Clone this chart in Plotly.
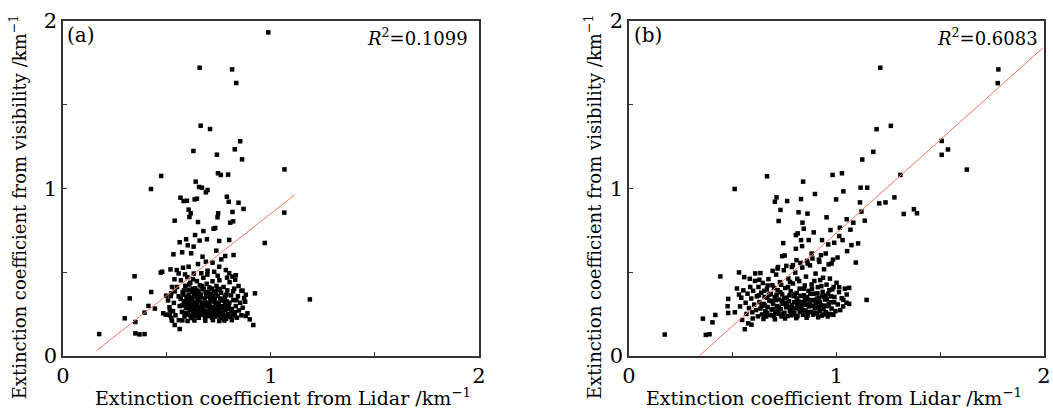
import plotly.graph_objects as go

# ---------------- data: panel (a) ----------------
a_sparse = [
    (0.987, 1.932), (0.657, 1.721), (0.813, 1.711), (0.833, 1.630), (0.662, 1.375),
    (0.707, 1.355), (0.852, 1.282), (0.826, 1.234), (0.627, 1.224), (0.740, 1.202),
    (0.861, 1.174), (1.065, 1.114), (0.472, 1.075), (0.745, 1.091), (0.759, 1.081),
    (0.794, 1.083), (0.423, 0.997), (0.638, 1.041), (0.654, 1.009), (0.668, 1.005),
    (0.687, 0.977), (0.695, 0.991), (0.565, 0.945), (0.580, 0.925), (0.596, 0.927),
    (0.633, 0.935), (0.644, 0.939), (0.788, 0.951), (0.797, 0.921), (0.844, 0.915),
    (0.868, 0.878), (1.064, 0.856), (0.815, 0.860), (0.604, 0.874), (0.614, 0.852),
    (0.608, 0.830), (0.649, 0.800), (0.537, 0.808), (0.746, 0.852), (0.743, 0.828),
    (0.804, 0.796), (0.818, 0.804), (0.732, 0.764), (0.724, 0.760), (0.675, 0.746),
    (0.635, 0.722), (0.592, 0.697), (0.561, 0.679), (0.970, 0.675), (0.600, 0.661),
    (0.628, 0.653), (0.657, 0.689), (0.692, 0.697), (0.751, 0.687), (0.799, 0.693),
    (0.737, 0.629), (0.531, 0.607), (0.573, 0.619), (0.616, 0.613), (0.671, 0.593),
    (0.820, 0.603), (0.780, 0.597), (0.761, 0.577), (0.719, 0.557), (0.687, 0.563),
    (0.649, 0.549), (0.604, 0.533), (0.577, 0.527), (0.547, 0.513), (0.477, 0.503),
    (0.470, 0.498), (0.517, 0.517), (0.344, 0.476), (0.751, 0.533), (0.783, 0.513),
    (0.815, 0.474), (0.799, 0.494), (0.831, 0.482), (0.727, 0.503), (0.695, 0.509),
    (0.665, 0.494), (0.321, 0.344), (0.424, 0.382), (0.923, 0.374), (1.187, 0.338),
    (0.411, 0.299), (0.392, 0.259), (0.442, 0.283), (0.297, 0.225), (0.348, 0.203),
    (0.174, 0.131), (0.348, 0.135), (0.368, 0.129), (0.392, 0.131), (0.482, 0.255),
    (0.494, 0.247), (0.514, 0.271), (0.524, 0.211), (0.537, 0.185), (0.561, 0.161),
    (0.496, 0.360), (0.520, 0.374), (0.915, 0.185), (0.898, 0.219), (0.879, 0.239),
    (0.887, 0.255), (0.876, 0.324), (0.879, 0.366), (0.863, 0.390), (0.751, 0.209),
]
a_dense = [
    (0.548, 0.412), (0.556, 0.356), (0.561, 0.298), (0.567, 0.452), (0.572, 0.263),
    (0.575, 0.381), (0.581, 0.327), (0.584, 0.236), (0.588, 0.419), (0.591, 0.288),
    (0.594, 0.352), (0.598, 0.471), (0.601, 0.248), (0.603, 0.396), (0.606, 0.314),
    (0.609, 0.272), (0.612, 0.437), (0.614, 0.341), (0.617, 0.226), (0.619, 0.383),
    (0.622, 0.295), (0.625, 0.458), (0.627, 0.259), (0.629, 0.368), (0.632, 0.322),
    (0.635, 0.404), (0.637, 0.239), (0.639, 0.283), (0.642, 0.351), (0.644, 0.447),
    (0.646, 0.306), (0.649, 0.262), (0.651, 0.389), (0.653, 0.228), (0.656, 0.334),
    (0.658, 0.422), (0.661, 0.276), (0.663, 0.367), (0.665, 0.245), (0.668, 0.311),
    (0.671, 0.398), (0.673, 0.289), (0.675, 0.467), (0.678, 0.254), (0.681, 0.343),
    (0.683, 0.227), (0.686, 0.381), (0.688, 0.302), (0.691, 0.431), (0.693, 0.266),
    (0.696, 0.355), (0.699, 0.238), (0.701, 0.318), (0.704, 0.409), (0.706, 0.281),
    (0.709, 0.249), (0.712, 0.372), (0.714, 0.331), (0.717, 0.228), (0.719, 0.446),
    (0.722, 0.292), (0.725, 0.258), (0.727, 0.387), (0.730, 0.343), (0.733, 0.235),
    (0.735, 0.305), (0.738, 0.418), (0.741, 0.271), (0.744, 0.359), (0.746, 0.243),
    (0.749, 0.316), (0.752, 0.452), (0.755, 0.284), (0.757, 0.226), (0.760, 0.378),
    (0.763, 0.337), (0.766, 0.259), (0.769, 0.297), (0.772, 0.412), (0.775, 0.238),
    (0.778, 0.352), (0.781, 0.276), (0.784, 0.223), (0.787, 0.326), (0.790, 0.392),
    (0.794, 0.251), (0.797, 0.304), (0.801, 0.441), (0.805, 0.233), (0.808, 0.362),
    (0.812, 0.281), (0.816, 0.247), (0.819, 0.334), (0.823, 0.402), (0.827, 0.262),
    (0.831, 0.298), (0.836, 0.229), (0.841, 0.357), (0.846, 0.272), (0.852, 0.318),
    (0.858, 0.243), (0.864, 0.288), (0.871, 0.346),
    (0.579, 0.366), (0.586, 0.305), (0.597, 0.338), (0.607, 0.427), (0.611, 0.293),
    (0.621, 0.348), (0.631, 0.277), (0.641, 0.391), (0.648, 0.331), (0.654, 0.291),
    (0.662, 0.352), (0.667, 0.418), (0.674, 0.317), (0.682, 0.271), (0.689, 0.362),
    (0.697, 0.296), (0.703, 0.256), (0.708, 0.344), (0.716, 0.402), (0.721, 0.268),
    (0.728, 0.322), (0.736, 0.281), (0.743, 0.394), (0.748, 0.297), (0.756, 0.343),
    (0.764, 0.287), (0.771, 0.254), (0.779, 0.312), (0.786, 0.367), (0.793, 0.282),
    (0.505, 0.332), (0.512, 0.291), (0.518, 0.358), (0.524, 0.412), (0.529, 0.268),
    (0.533, 0.317), (0.538, 0.386), (0.541, 0.243), (0.536, 0.458), (0.521, 0.226),
    (0.514, 0.243), (0.557, 0.214), (0.574, 0.213), (0.599, 0.209), (0.632, 0.212),
    (0.684, 0.211), (0.721, 0.214), (0.776, 0.212), (0.812, 0.214),
    (0.556, 0.493), (0.587, 0.487), (0.629, 0.492), (0.694, 0.486), (0.744, 0.479),
    (0.789, 0.468), (0.828, 0.455), (0.844, 0.418), (0.858, 0.389),
    (0.566, 0.341), (0.573, 0.302), (0.582, 0.392), (0.589, 0.258), (0.596, 0.318),
    (0.604, 0.367), (0.611, 0.242), (0.618, 0.314), (0.624, 0.401), (0.630, 0.251),
    (0.636, 0.297), (0.643, 0.372), (0.650, 0.241), (0.657, 0.358), (0.664, 0.288),
    (0.670, 0.261), (0.677, 0.402), (0.684, 0.319), (0.690, 0.246), (0.698, 0.381),
    (0.705, 0.303), (0.713, 0.267), (0.720, 0.357), (0.726, 0.242), (0.734, 0.373),
    (0.740, 0.316), (0.747, 0.268), (0.754, 0.401), (0.761, 0.249), (0.768, 0.331),
    (0.776, 0.286), (0.783, 0.362), (0.792, 0.238), (0.800, 0.318), (0.810, 0.268),
    (0.818, 0.386), (0.826, 0.241), (0.834, 0.333),
]
a_lidar = [p[0] for p in a_sparse + a_dense]
a_visibility = [p[1] for p in a_sparse + a_dense]
a_fit_x = [0.161, 1.113]
a_fit_y = [0.032, 0.961]
a_r2 = "0.1099"

# ---------------- data: panel (b) ----------------
b_sparse = [
    (1.211, 1.721), (1.780, 1.711), (1.777, 1.629), (1.193, 1.354), (1.262, 1.374),
    (1.507, 1.284), (1.507, 1.201), (1.537, 1.233), (1.177, 1.219), (1.124, 1.173),
    (1.628, 1.113), (1.308, 1.081), (0.665, 1.073), (0.981, 1.081), (1.026, 1.091),
    (0.839, 1.041), (0.509, 0.997), (1.116, 1.005), (1.148, 1.005), (1.033, 0.983),
    (0.896, 0.967), (0.998, 0.935), (1.279, 0.947), (0.703, 0.921), (0.711, 0.947),
    (0.762, 0.925), (0.829, 0.937), (1.206, 0.911), (1.236, 0.917), (1.113, 0.917),
    (0.730, 0.872), (1.324, 0.848), (1.373, 0.876), (1.388, 0.852), (0.817, 0.858),
    (0.860, 0.850), (1.120, 0.862), (0.721, 0.806), (0.836, 0.796), (0.842, 0.760),
    (1.049, 0.816), (1.081, 0.796), (1.136, 0.808), (1.016, 0.766), (1.067, 0.754),
    (0.971, 0.752), (0.804, 0.722), (0.813, 0.732), (0.890, 0.738), (0.952, 0.828),
    (1.013, 0.716), (1.029, 0.692), (1.104, 0.672), (1.072, 0.662), (1.051, 0.626),
    (1.093, 0.558), (1.145, 0.335), (0.743, 0.674), (0.829, 0.692), (0.866, 0.692),
    (0.930, 0.692), (0.960, 0.666), (0.989, 0.676), (0.804, 0.640), (0.834, 0.656),
    (0.880, 0.612), (0.925, 0.602), (1.005, 0.588), (0.738, 0.596), (0.750, 0.600),
    (0.807, 0.572), (0.861, 0.552), (0.917, 0.562), (0.976, 0.552), (0.718, 0.531),
    (0.785, 0.531), (0.633, 0.495), (0.440, 0.475), (0.530, 0.499), (0.555, 0.471),
    (0.520, 0.403), (0.478, 0.341), (0.530, 0.367), (0.475, 0.297), (0.478, 0.257),
    (0.510, 0.261), (0.356, 0.223), (0.416, 0.245), (0.402, 0.201), (0.172, 0.128),
    (0.370, 0.126), (0.388, 0.130), (0.545, 0.215), (0.558, 0.160), (0.590, 0.187),
    (0.574, 0.195), (0.566, 0.251), (1.061, 0.311), (1.049, 0.367), (1.061, 0.407),
    (1.033, 0.335), (1.013, 0.411),
]
b_dense = [
    (0.562, 0.318), (0.571, 0.372), (0.578, 0.286), (0.584, 0.412), (0.589, 0.343),
    (0.594, 0.261), (0.598, 0.389), (0.603, 0.307), (0.607, 0.448), (0.612, 0.274),
    (0.616, 0.356), (0.621, 0.237), (0.624, 0.412), (0.628, 0.322), (0.633, 0.283),
    (0.637, 0.378), (0.641, 0.248), (0.645, 0.436), (0.649, 0.311), (0.653, 0.352),
    (0.657, 0.267), (0.661, 0.236), (0.664, 0.397), (0.668, 0.292), (0.672, 0.459),
    (0.676, 0.331), (0.679, 0.246), (0.683, 0.371), (0.687, 0.277), (0.691, 0.423),
    (0.694, 0.313), (0.698, 0.238), (0.702, 0.352), (0.705, 0.262), (0.709, 0.486),
    (0.713, 0.298), (0.716, 0.393), (0.720, 0.251), (0.724, 0.337), (0.727, 0.441),
    (0.731, 0.279), (0.735, 0.236), (0.738, 0.368), (0.742, 0.312), (0.746, 0.512),
    (0.749, 0.258), (0.753, 0.406), (0.757, 0.291), (0.760, 0.348), (0.764, 0.239),
    (0.768, 0.462), (0.771, 0.327), (0.775, 0.269), (0.779, 0.387), (0.782, 0.243),
    (0.786, 0.303), (0.790, 0.433), (0.794, 0.357), (0.797, 0.255), (0.801, 0.498),
    (0.805, 0.284), (0.808, 0.376), (0.812, 0.238), (0.816, 0.328), (0.820, 0.447),
    (0.823, 0.265), (0.827, 0.359), (0.831, 0.297), (0.835, 0.528), (0.838, 0.246),
    (0.842, 0.402), (0.846, 0.319), (0.850, 0.272), (0.853, 0.474), (0.857, 0.352),
    (0.861, 0.241), (0.865, 0.389), (0.868, 0.296), (0.872, 0.541), (0.876, 0.263),
    (0.880, 0.427), (0.884, 0.334), (0.887, 0.247), (0.891, 0.372), (0.895, 0.286),
    (0.899, 0.492), (0.902, 0.313), (0.906, 0.254), (0.910, 0.411), (0.914, 0.348),
    (0.918, 0.268), (0.921, 0.453), (0.925, 0.305), (0.929, 0.241), (0.933, 0.383),
    (0.937, 0.279), (0.940, 0.518), (0.944, 0.337), (0.948, 0.262), (0.952, 0.426),
    (0.956, 0.298), (0.960, 0.371), (0.964, 0.252), (0.968, 0.462), (0.972, 0.321),
    (0.976, 0.283), (0.980, 0.398), (0.985, 0.246), (0.990, 0.352), (0.995, 0.268),
    (1.000, 0.437), (1.006, 0.308), (1.012, 0.381), (1.018, 0.274), (1.025, 0.345),
    (1.032, 0.296), (1.040, 0.402), (1.048, 0.318),
    (0.655, 0.301), (0.666, 0.348), (0.688, 0.327), (0.696, 0.281), (0.711, 0.365),
    (0.722, 0.294), (0.736, 0.325), (0.748, 0.346), (0.761, 0.301), (0.773, 0.362),
    (0.787, 0.279), (0.796, 0.321), (0.809, 0.343), (0.817, 0.291), (0.829, 0.321),
    (0.843, 0.363), (0.852, 0.305), (0.863, 0.337), (0.874, 0.371), (0.885, 0.301),
    (0.896, 0.331), (0.908, 0.374), (0.919, 0.322), (0.931, 0.356), (0.942, 0.301),
    (0.953, 0.338), (0.965, 0.393), (0.974, 0.356), (0.986, 0.412), (0.962, 0.547),
    (0.915, 0.575), (0.884, 0.582), (0.858, 0.568), (0.826, 0.556), (0.790, 0.542),
    (0.758, 0.538), (0.948, 0.612), (0.983, 0.575), (0.716, 0.522), (0.692, 0.508),
    (0.668, 0.421), (0.628, 0.455), (0.608, 0.493), (0.582, 0.461), (0.551, 0.392),
    (0.541, 0.348), (0.535, 0.296), (0.596, 0.224), (0.648, 0.221), (0.703, 0.219),
    (0.752, 0.224), (0.806, 0.226), (0.856, 0.229), (0.912, 0.231), (0.958, 0.236),
    (0.626, 0.362), (0.639, 0.298), (0.651, 0.389), (0.663, 0.258), (0.675, 0.365),
    (0.686, 0.243), (0.699, 0.406), (0.707, 0.334), (0.718, 0.271), (0.729, 0.381),
    (0.741, 0.249), (0.754, 0.318), (0.766, 0.412), (0.777, 0.294), (0.789, 0.251),
    (0.799, 0.368), (0.811, 0.311), (0.822, 0.402), (0.834, 0.273), (0.847, 0.343),
    (0.859, 0.262), (0.870, 0.312), (0.882, 0.401), (0.893, 0.259), (0.905, 0.342),
    (0.916, 0.292), (0.927, 0.417), (0.938, 0.248), (0.950, 0.361), (0.963, 0.309),
    (0.976, 0.248), (0.989, 0.321), (0.935, 0.467), (0.893, 0.448), (0.847, 0.421),
    (0.811, 0.461), (0.776, 0.442), (0.733, 0.425),
]
b_lidar = [p[0] for p in b_sparse + b_dense]
b_visibility = [p[1] for p in b_sparse + b_dense]
b_fit_x = [0.338, 1.994]
b_fit_y = [0.0, 1.839]
b_r2 = "0.6083"

major_ticks = [0, 1, 2]
minor_step = 0.5

x_title = "Extinction coefficient from Lidar /km<sup>−1</sup>"
y_title = "Extinction coefficient from visibility /km<sup>−1</sup>"

FONT = "DejaVu Serif"
MARK = dict(symbol="square", size=4.5, color="black", line=dict(width=0))
LINE = dict(color="#f27a5e", width=1)

fig = go.Figure()
fig.add_trace(go.Scatter(x=a_lidar, y=a_visibility, mode="markers", marker=MARK,
                         xaxis="x", yaxis="y", showlegend=False))
fig.add_trace(go.Scatter(x=a_fit_x, y=a_fit_y, mode="lines", line=LINE,
                         xaxis="x", yaxis="y", showlegend=False))
fig.add_trace(go.Scatter(x=b_lidar, y=b_visibility, mode="markers", marker=MARK,
                         xaxis="x2", yaxis="y2", showlegend=False))
fig.add_trace(go.Scatter(x=b_fit_x, y=b_fit_y, mode="lines", line=LINE,
                         xaxis="x2", yaxis="y2", showlegend=False))

axis_common = dict(range=[0, 2], tickmode="array", tickvals=major_ticks,
                   ticks="inside", ticklen=4, tickwidth=1.2, tickcolor="#333",
                   minor=dict(dtick=minor_step, tick0=0, ticks="inside", ticklen=4,
                              tickwidth=1.2, tickcolor="#333", showgrid=False),
                   showline=True, linecolor="#333", linewidth=1.5, mirror=True,
                   showgrid=False, zeroline=False,
                   tickfont=dict(family=FONT, size=21, color="black"))

fig.update_layout(
    width=1053, height=410,
    margin=dict(l=63, r=2, t=21, b=54),
    paper_bgcolor="white", plot_bgcolor="white",
    font=dict(family=FONT, color="black"),
    xaxis=dict(domain=[0, 0.424], anchor="y", **axis_common),
    yaxis=dict(domain=[0, 1], anchor="x", **axis_common),
    xaxis2=dict(domain=[0.577, 1], anchor="y2", **axis_common),
    yaxis2=dict(domain=[0, 1], anchor="x2", **axis_common),
)

xtitle_font = dict(family=FONT, size=19, color="black")
ytitle_font = dict(family=FONT, size=18, color="black")
label_font = dict(family=FONT, size=20, color="black")
r2_font = dict(family=FONT, size=18, color="black")
annotations = [
    dict(text="(a)", xref="x domain", yref="y domain", x=0.006, y=1.0,
         xanchor="left", yanchor="top", showarrow=False, font=label_font),
    dict(text="(b)", xref="x2 domain", yref="y2 domain", x=0.006, y=1.0,
         xanchor="left", yanchor="top", showarrow=False, font=label_font),
    dict(text="<i>R</i><sup>2</sup>=" + a_r2, xref="x domain", yref="y domain",
         x=0.978, y=0.995, xanchor="right", yanchor="top", showarrow=False, font=r2_font),
    dict(text="<i>R</i><sup>2</sup>=" + b_r2, xref="x2 domain", yref="y2 domain",
         x=0.99, y=0.995, xanchor="right", yanchor="top", showarrow=False, font=r2_font),
    dict(text=x_title, xref="paper", yref="paper", x=0.2247, y=-0.082,
         xanchor="center", yanchor="top", showarrow=False, font=xtitle_font),
    dict(text=x_title, xref="paper", yref="paper", x=0.7864, y=-0.082,
         xanchor="center", yanchor="top", showarrow=False, font=xtitle_font),
    dict(text=y_title, xref="paper", yref="paper", x=-0.0455, y=0.445, textangle=-90,
         xanchor="center", yanchor="middle", showarrow=False, font=ytitle_font),
    dict(text=y_title, xref="paper", yref="paper", x=0.5405, y=0.445, textangle=-90,
         xanchor="center", yanchor="middle", showarrow=False, font=ytitle_font),
]
fig.update_layout(annotations=annotations)

# remove the default page margin so the figure fills the 1053x410 window exactly
fig.write_html("out.html", config={"displayModeBar": False},
               post_script="document.body.style.margin='0';document.body.style.overflow='hidden';")
